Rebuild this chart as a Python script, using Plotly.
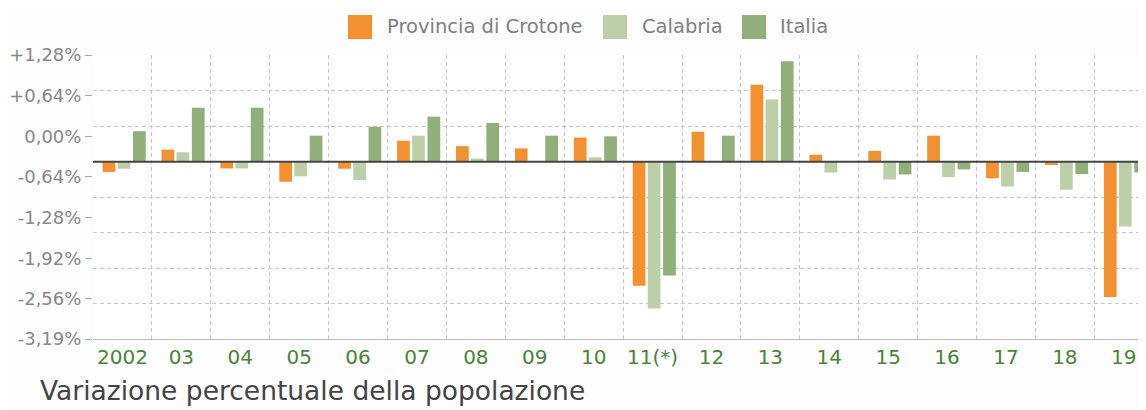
import plotly.graph_objects as go

# ---------------- data ----------------
categories = ["2002", "03", "04", "05", "06", "07", "08", "09", "10", "11(*)",
              "12", "13", "14", "15", "16", "17", "18", "19"]
# variation (percentage points) measured from the chart's reference line
crotone = [-0.16, 0.19, -0.105, -0.315, -0.11, 0.33, 0.245, 0.21, 0.38, -1.95,
           0.47, 1.21, 0.11, 0.17, 0.41, -0.26, -0.05, -2.13]
calabria = [-0.11, 0.15, -0.105, -0.23, -0.29, 0.41, 0.05, 0.0, 0.07, -2.31,
            0.0, 0.98, -0.17, -0.28, -0.24, -0.39, -0.44, -1.02]
italia = [0.48, 0.85, 0.85, 0.41, 0.55, 0.71, 0.61, 0.41, 0.40, -1.79,
          0.41, 1.58, 0.0, -0.20, -0.12, -0.16, -0.195, -0.17]
series_names = ["Provincia di Crotone", "Calabria", "Italia"]
ytick_vals = [1.28, 0.64, 0.0, -0.64, -1.28, -1.92, -2.56, -3.19]
ytick_text = ["+1,28%", "+0,64%", "0,00%", "-0,64%", "-1,28%", "-1,92%", "-2,56%", "-3,19%"]
BASE = -0.40

# ---------------- style ----------------
PAGE_OFF = 8  # default body margin of the html page
W, H = 1146 - PAGE_OFF, 410 - PAGE_OFF
ML, MR, MT = 93 - PAGE_OFF, 0, 55 - PAGE_OFF
MB = H - (339 - PAGE_OFF)
colors = ["#F39030", "#BCCFA8", "#90AF7B"]
FONT = "DejaVu Sans"
GRID = dict(showgrid=True, gridcolor="#C6C6C6", griddash="4px,3px", gridwidth=1, ticks="")
bar_w = 0.216
offsets = [-0.337, -0.082, 0.179]

x = list(range(len(categories)))
fig = go.Figure()
for vals, name, col, off in zip([crotone, calabria, italia], series_names, colors, offsets):
    fig.add_trace(go.Bar(x=x, y=vals, base=BASE, name=name, width=bar_w, offset=off,
                         marker=dict(color=col, line=dict(width=0)), showlegend=False))

ymin, ymax = -3.19, 1.28
grid_y = [ymax - k * (ymax - ymin) / 8 for k in range(9)]
grid_x = [k - 0.5 for k in range(len(categories) + 1)]

fig.update_layout(
    width=W, height=H,
    margin=dict(l=ML, r=MR, t=MT, b=MB),
    paper_bgcolor="#FDFDFD", plot_bgcolor="#FFFFFF",
    barmode="overlay",
    font=dict(family=FONT, color="#888888"),
    showlegend=False,
    xaxis=dict(range=[-0.5, -0.5 + (W - ML - MR) / 58.9], tickmode="array",
               tickvals=x, ticktext=categories, showgrid=False, zeroline=False,
               ticks="", tickfont=dict(size=20, color="#4A8439", family=FONT),
               showline=True, linecolor="#BBBBBB", linewidth=1, automargin=False,
               minor=dict(tickvals=grid_x, **GRID)),
    yaxis=dict(range=[ymin, ymax], tickmode="array", tickvals=ytick_vals,
               ticktext=ytick_text, showgrid=False, zeroline=False,
               ticks="outside", ticklen=7, tickcolor="#AAAAAA",
               tickfont=dict(size=18, color="#888888", family=FONT), automargin=False,
               minor=dict(tickvals=grid_y, **GRID)),
)

# reference line
fig.add_shape(type="line", xref="paper", yref="y", x0=0, x1=1, y0=BASE, y1=BASE,
              line=dict(color="#444444", width=2))


def px2paper(px, py):
    """page pixel -> paper coordinates"""
    fx, fy = px - PAGE_OFF, py - PAGE_OFF
    return (fx - ML) / (W - ML - MR), (H - MB - fy) / (H - MT - MB)


# manual legend
legend_items = [(348, 385), (603, 640), (742, 778)]
for (sq_x, tx), name, col in zip(legend_items, series_names, colors):
    x0, y0 = px2paper(sq_x, 39)
    x1, y1 = px2paper(sq_x + 24, 15)
    fig.add_shape(type="rect", xref="paper", yref="paper", x0=x0, x1=x1, y0=y0, y1=y1,
                  fillcolor=col, line=dict(width=0))
    ax, ay = px2paper(tx, 27)
    fig.add_annotation(x=ax, y=ay, xref="paper", yref="paper", text=name, showarrow=False,
                       xanchor="left", yanchor="middle",
                       font=dict(size=19.5, color="#808080", family=FONT))

tx, ty = px2paper(38, 390)
fig.add_annotation(x=tx, y=ty, xref="paper", yref="paper",
                   text="Variazione percentuale della popolazione", showarrow=False,
                   xanchor="left", yanchor="middle",
                   font=dict(size=26.5, color="#444444", family=FONT))

fig.write_html("out.html")
